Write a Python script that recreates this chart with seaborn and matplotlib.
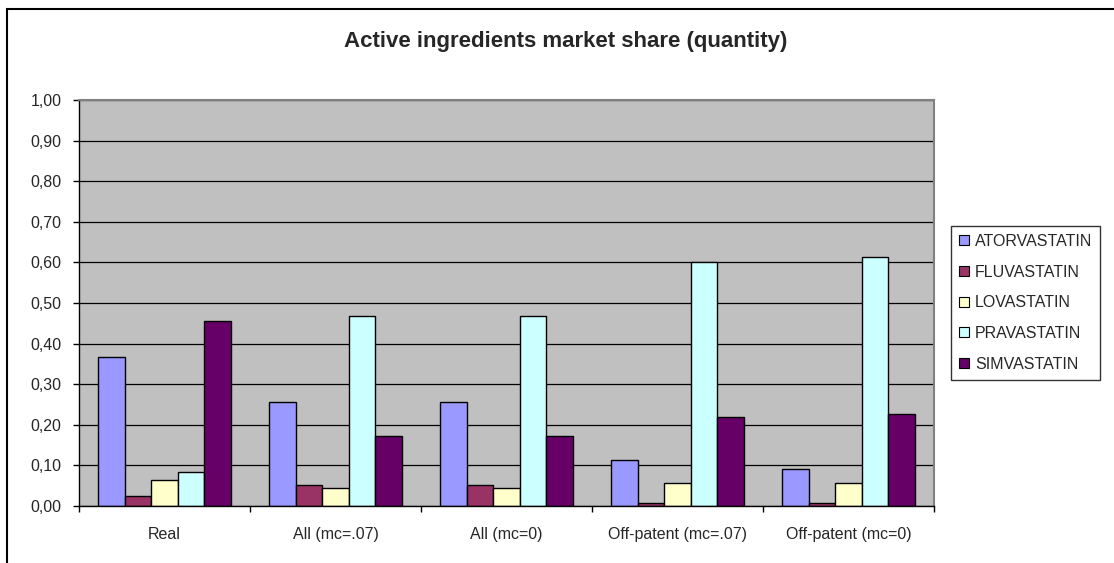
import matplotlib
matplotlib.use("Agg")
import matplotlib.pyplot as plt
import seaborn as sns
import pandas as pd
from matplotlib.patches import Patch, Rectangle
from matplotlib.ticker import FixedLocator

categories = ["Real", "All (mc=.07)", "All (mc=0)", "Off-patent (mc=.07)", "Off-patent (mc=0)"]
series = ["ATORVASTATIN", "FLUVASTATIN", "LOVASTATIN", "PRAVASTATIN", "SIMVASTATIN"]
atorvastatin = [0.368, 0.256, 0.256, 0.114, 0.091]
fluvastatin = [0.025, 0.052, 0.052, 0.007, 0.007]
lovastatin = [0.065, 0.045, 0.045, 0.057, 0.057]
pravastatin = [0.083, 0.467, 0.467, 0.600, 0.614]
simvastatin = [0.456, 0.172, 0.172, 0.218, 0.226]
colors = ["#9999FF", "#993366", "#FFFFCC", "#CCFFFF", "#660066"]
ytick_labels = ["0,00", "0,10", "0,20", "0,30", "0,40", "0,50", "0,60", "0,70", "0,80", "0,90", "1,00"]
title = "Active ingredients market share (quantity)"

values = [atorvastatin, fluvastatin, lovastatin, pravastatin, simvastatin]
rows = []
for s, vals in zip(series, values):
    for c, v in zip(categories, vals):
        rows.append({"category": c, "series": s, "value": v})
df = pd.DataFrame(rows)

sns.set_theme(style="white")
plt.rcParams['font.family'] = ['Liberation Sans', 'DejaVu Sans']

W, H = 1114, 563
fig = plt.figure(figsize=(W / 100, H / 100), dpi=100)
ax = fig.add_axes([79 / W, 1 - 506 / H, (934 - 79) / W, (506 - 100) / H])
ax.set_facecolor("#C0C0C0")

sns.barplot(data=df, x="category", y="value", hue="series", order=categories,
            hue_order=series, palette=colors, width=0.775, edgecolor="black",
            linewidth=1.0, ax=ax, legend=False, saturation=1)

ax.set_xlim(-0.5, len(categories) - 0.5)
ax.set_ylim(0, 1.0)
yt = [i / 10 for i in range(11)]
ax.set_yticks(yt)
ax.set_yticklabels(ytick_labels, fontsize=11.5)
ax.yaxis.grid(True, color="black", linewidth=0.9)
ax.set_axisbelow(True)
ax.set_xlabel("")
ax.set_ylabel("")
ax.tick_params(axis="y", direction="out", length=4.5, width=1, color="black", pad=8, left=True)
ax.tick_params(axis="x", which="major", length=0, pad=15, labelsize=11.5)
ax.xaxis.set_minor_locator(FixedLocator([i - 0.5 for i in range(len(categories) + 1)]))
ax.tick_params(axis="x", which="minor", direction="out", length=4.5, width=1, color="black", bottom=True)

for side in ["left", "bottom"]:
    ax.spines[side].set_color("black")
    ax.spines[side].set_linewidth(1.0)
for side in ["top", "right"]:
    ax.spines[side].set_color("#808080")
    ax.spines[side].set_linewidth(1.5)
    ax.spines[side].set_visible(True)

fig.text(566 / W, 1 - 42 / H, title, ha="center", va="center", fontsize=16, fontweight="bold")

handles = [Patch(facecolor=c, edgecolor="black", linewidth=0.8, label=s) for c, s in zip(colors, series)]
leg = fig.legend(handles=handles, loc="upper left", bbox_to_anchor=(951 / W, 1 - 226 / H),
                 frameon=True, fancybox=False, fontsize=11.5, handlelength=0.6, handleheight=0.6,
                 handletextpad=0.4, labelspacing=0.98, borderpad=0.5, borderaxespad=0)
leg.get_frame().set_edgecolor("black")
leg.get_frame().set_linewidth(1.0)

fig.patches.append(Rectangle((7 / W, -0.1), 1.2, 1 - 9 / H + 0.1, transform=fig.transFigure,
                             fill=False, edgecolor="black", linewidth=1.5))

fig.savefig("out.png", dpi=100)
